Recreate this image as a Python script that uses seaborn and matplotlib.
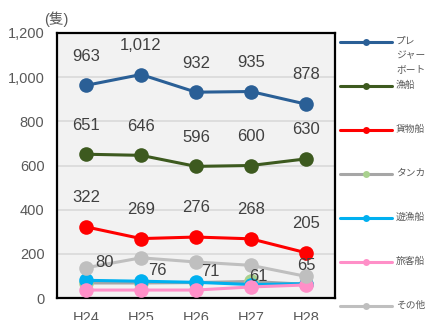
import matplotlib
matplotlib.use("Agg")
import matplotlib.pyplot as plt
from matplotlib.lines import Line2D
import seaborn as sns
import pandas as pd

sns.set_theme(style="white")
plt.rcParams["font.family"] = ["Liberation Sans", "Noto Sans CJK JP", "DejaVu Sans"]

years = ["H24", "H25", "H26", "H27", "H28"]
pleasure = [963, 1012, 932, 935, 878]
fishing = [651, 646, 596, 600, 630]
cargo = [322, 269, 276, 268, 205]
tanker = [68, 68, 70, 75, 62]
sport_fishing = [80, 76, 71, 61, 65]
passenger = [36, 36, 36, 50, 59]
other = [137, 182, 163, 148, 98]

series_names = ["プレジャーボート", "漁船", "貨物船", "タンカー", "遊漁船", "旅客船", "その他"]
legend_labels = ["プレ\nジャー\nボート", "漁船", "貨物船", "タンカー", "遊漁船", "旅客船", "その他"]
series_values = [pleasure, fishing, cargo, tanker, sport_fishing, passenger, other]
line_colors = ["#2a5f96", "#3d5a1f", "#ff0000", "#a6a6a6", "#00b0f0", "#ff8fc8", "#bfbfbf"]
face_colors = ["#2a5f96", "#3d5a1f", "#ff0000", "#a9d18e", "#00b0f0", "#ff8fc8", "#bfbfbf"]
labelled = {"プレジャーボート", "漁船", "貨物船"}

rows = []
for name, vals in zip(series_names, series_values):
    for i, v in enumerate(vals):
        rows.append({"series": name, "pos": i, "value": v})
df = pd.DataFrame(rows)

fig = plt.figure(figsize=(4.27, 3.2), dpi=100)
ax = fig.add_axes([57 / 427, 1 - 298 / 320, (335 - 57) / 427, (298 - 33) / 320])
ax.set_facecolor("#f2f2f2")

for name, lc, fc in zip(series_names, line_colors, face_colors):
    sub = df[df["series"] == name]
    sns.lineplot(data=sub, x="pos", y="value", ax=ax, color=lc, linewidth=2.2,
                 marker="o", markersize=10.5, markerfacecolor=fc,
                 markeredgecolor=fc, markeredgewidth=0, legend=False, zorder=3)
    if name in labelled:
        for x, v in zip(sub["pos"], sub["value"]):
            ax.annotate(f"{v:,}", (x, v), xytext=(0, 21), textcoords="offset points",
                        ha="center", va="center", fontsize=12, color="#404040")

# value labels for 遊漁船, nudged off the crowded lower lines
nudges = [(13, 13), (12, 8), (10, 8), (5, 6), (0, 13)]
for x, v, (dx, dy) in zip(range(len(years)), sport_fishing, nudges):
    ax.annotate(f"{v:,}", (x, v), xytext=(dx, dy), textcoords="offset points",
                ha="center", va="center", fontsize=12, color="#404040", zorder=5)

ax.set_xlim(-0.53, 4.53)
ax.set_ylim(0, 1200)
ax.set_xticks(range(len(years)))
ax.set_xticklabels(years)
ax.set_yticks(range(0, 1201, 200))
ax.set_yticklabels([f"{t:,}" for t in range(0, 1201, 200)])
ax.tick_params(axis="both", length=0, labelsize=10.5, labelcolor="#595959")
ax.tick_params(axis="y", pad=9)
ax.tick_params(axis="x", pad=9)
ax.set_xlabel("")
ax.set_ylabel("")
ax.grid(axis="y", color="#d9d9d9", linewidth=1.2)
ax.set_axisbelow(True)
for sp in ax.spines.values():
    sp.set_visible(True)
    sp.set_color("black")
    sp.set_linewidth(1.6)

fig.text(44 / 427, 1 - 19 / 320, "(隻)", fontsize=10.5, color="#595959",
         ha="left", va="center")

# legend column on the right
for k, (lab, lc, fc) in enumerate(zip(legend_labels, line_colors, face_colors)):
    yp = 1 - (42 + 44 * k) / 320
    fig.add_artist(Line2D([340 / 427, 392 / 427], [yp, yp], transform=fig.transFigure,
                          color=lc, linewidth=2.2))
    fig.add_artist(Line2D([366 / 427], [yp], transform=fig.transFigure, marker="o",
                          markersize=5, color=fc, markeredgewidth=0))
    fig.text(396 / 427, yp + 6 / 320, lab, fontsize=7, color="#595959",
             ha="left", va="top", linespacing=1.5)

fig.savefig("out.png", dpi=100)
